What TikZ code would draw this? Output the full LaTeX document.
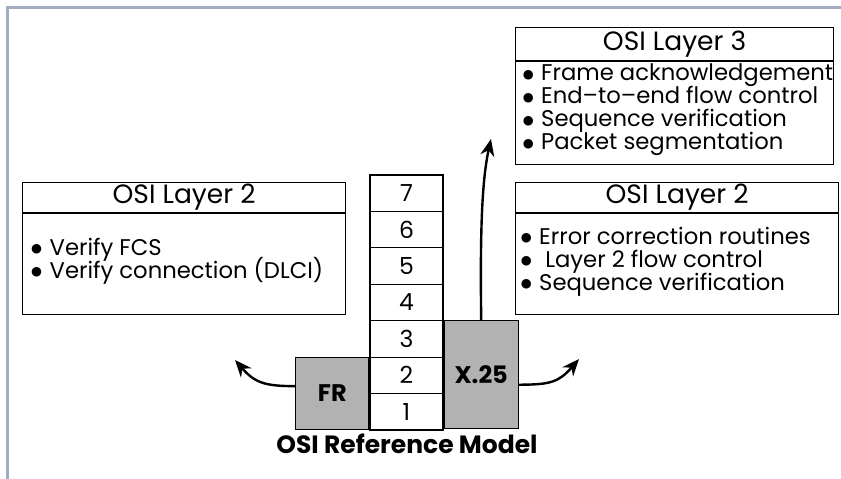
\documentclass[tikz,border=0pt]{standalone}
\usepackage{fontspec}
\setmainfont{Poppins}
\newfontfamily\dotfont{DejaVu Sans}
\usetikzlibrary{arrows.meta}
\definecolor{framegray}{RGB}{162,173,193}
\definecolor{layergray}{RGB}{178,178,178}
\newcommand\itemdot{\makebox[26pt][c]{\raisebox{2.5pt}{\dotfont\fontsize{12.5}{12.5}\selectfont ●}}}
\tikzset{
  box/.style={draw, line width=1.2pt, inner sep=0pt},
  heading/.style={box, font=\fontsize{26.5}{28}\selectfont},
  item/.style={font=\fontsize{22.7}{23}\selectfont, inner sep=0pt, anchor=base west},
  layer/.style={box, minimum width=73pt, minimum height=36.4pt, font=\fontsize{23.5}{25}\selectfont},
  proto/.style={box, fill=layergray, font=\bfseries\fontsize{24}{26}\selectfont},
  flow/.style={line width=2.4pt, -{Stealth[length=17pt,width=14pt]}}
}
\begin{document}
\begin{tikzpicture}[x=1pt,y=-1pt]
  \useasboundingbox (0,0) rectangle (841,479);
  \draw[framegray, line width=3pt] (7,479) -- (7,7) -- (841,7);
  \foreach \i in {1,...,7}
    \node[layer] (l\i) at (406.5, 448.2 - \i*36.43) {\i};
  \node[proto, minimum width=73pt, minimum height=72pt, anchor=north east] (fr) at (l2.north west) {\raisebox{-4pt}{FR}};
  \node[proto, minimum width=74pt, minimum height=108pt, anchor=north west] (x25) at (l3.north east) {\raisebox{-6pt}{X.25}};
  \node[font=\bfseries\fontsize{25}{27}\selectfont] (model) at (407,444) {OSI Reference Model};

  \node[heading, minimum width=323pt, minimum height=30pt, anchor=north west] (frhead) at (22,182) {OSI Layer 2};
  \node[box, minimum width=323pt, minimum height=101pt, anchor=north west] (frbody) at (frhead.south west) {};
  \foreach \t [count=\k] in {Verify FCS, Verify connection (DLCI)}
    \node[item] (fritem\k) at (23.5, 232 + 23*\k) {\itemdot\t};

  \node[heading, minimum width=323pt, minimum height=30pt, anchor=north west] (xhead) at (515,182) {OSI Layer 2};
  \node[box, minimum width=323pt, minimum height=101pt, anchor=north west] (xbody) at (xhead.south west) {};
  \foreach \t [count=\k] in {Error correction routines, \ Layer 2 flow control, Sequence verification}
    \node[item] (xitem\k) at (513, 221 + 23*\k) {\itemdot\t};

  \node[heading, minimum width=318pt, minimum height=33pt, anchor=north west] (nethead) at (515,27) {OSI Layer 3};
  \node[box, minimum width=318pt, minimum height=103pt, anchor=north west] (netbody) at (nethead.south west) {};
  \foreach \t [count=\k] in {Frame acknowledgement, End--to--end flow control, Sequence verification, Packet segmentation}
    \node[item] (netitem\k) at (515, 57.5 + 23*\k) {\itemdot\t};

  \coordinate (frtip) at (235,360);
  \coordinate (xtip) at (579,359);
  \coordinate (nettip) at (491,139);
  \draw[flow] ([yshift=7pt]fr.west) .. controls +(-30,0) and (255,383) .. (frtip);
  \draw[flow] ([yshift=-10pt]x25.east) .. controls +(32,0) and (559,382) .. (xtip);
  \draw[flow] (x25.north) .. controls (480,230) and (482,180) .. (nettip);
\end{tikzpicture}
\end{document}
